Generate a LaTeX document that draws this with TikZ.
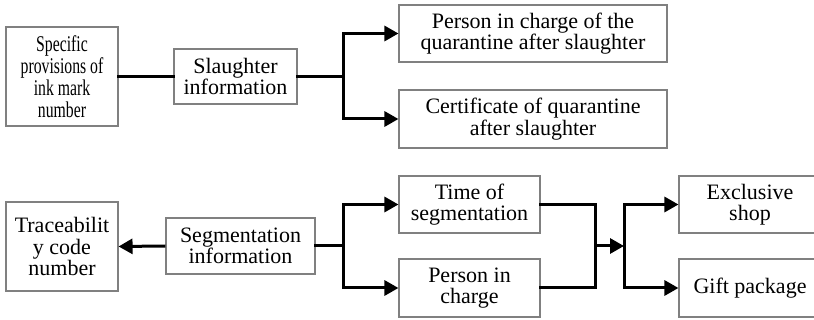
\documentclass[tikz,border=0pt]{standalone}
\usepackage{fontspec}
\setmainfont{Liberation Serif}
\newfontfamily\narrowserif[FakeStretch=0.7]{Liberation Serif}
\usetikzlibrary{arrows.meta}

\tikzset{
  box/.style={draw=black!50, line width=1.1pt, inner sep=0pt, align=center,
    font=\fontsize{22}{21.5}\selectfont},
  link/.style={line width=3pt, line join=miter, line cap=rect},
  tip/.style={link, line cap=butt, -{Triangle[length=14pt,width=15pt]}},
}

\begin{document}
\begin{tikzpicture}[x=1pt, y=-1pt]
  \useasboundingbox (0,0) rectangle (814,320);

  % upper chain: slaughter data
  \node[box, minimum width=112pt, minimum height=99pt, font=\narrowserif\fontsize{22.5}{22}\selectfont]
    (spec) at (62,76.5) {Specific\\provisions of\\ink mark\\number};
  \node[box, minimum width=123pt, minimum height=55pt] (slau) at (235.5,76.5) {Slaughter\\information};
  \node[box, minimum width=268pt, minimum height=57pt] (pers) at (533,33.5) {Person in charge of the\\quarantine after slaughter};
  \node[box, minimum width=268pt, minimum height=58pt] (cert) at (533,119) {Certificate of quarantine\\after slaughter};

  % lower chain: segmentation data
  \node[box, minimum width=112pt, minimum height=89pt] (trace) at (62,246.5) {Traceabilit\\y code\\number};
  \node[box, minimum width=149pt, minimum height=56pt] (seg) at (240.5,246) {Segmentation\\information};
  \node[box, minimum width=141pt, minimum height=57pt] (time) at (469.5,204.5) {Time of\\segmentation};
  \node[box, minimum width=141pt, minimum height=58pt] (pic) at (469.5,288) {Person in\\charge};
  \node[box, minimum width=142pt, minimum height=57pt] (excl) at (750,204.5) {Exclusive\\shop};
  \node[box, minimum width=142pt, minimum height=58pt] (gift) at (750,288) {Gift package};

  % junction points
  \coordinate (ja) at (343,76.5);
  \coordinate (jb) at (343,246);
  \coordinate (jc) at (595,246);
  \coordinate (jd) at (624,246);

  % upper connectors
  \draw[link] (spec.east) -- (slau.west);
  \draw[link] (slau.east) -- (ja);
  \draw[link] (ja |- pers.west) -- (ja |- cert.west);
  \draw[tip] (ja |- pers.west) -- (pers.west);
  \draw[tip] (ja |- cert.west) -- (cert.west);

  % lower connectors
  \draw[tip] (seg.west) -- (trace.east);
  \draw[link] (seg.east) -- (jb);
  \draw[link] (jb |- time.west) -- (jb |- pic.west);
  \draw[tip] (jb |- time.west) -- (time.west);
  \draw[tip] (jb |- pic.west) -- (pic.west);
  \draw[link] (time.east) -| (jc) |- (pic.east);
  \draw[tip] (jc) -- (jd);
  \draw[link] (jd |- excl.west) -- (jd |- gift.west);
  \draw[tip] (jd |- excl.west) -- (excl.west);
  \draw[tip] (jd |- gift.west) -- (gift.west);
\end{tikzpicture}
\end{document}
